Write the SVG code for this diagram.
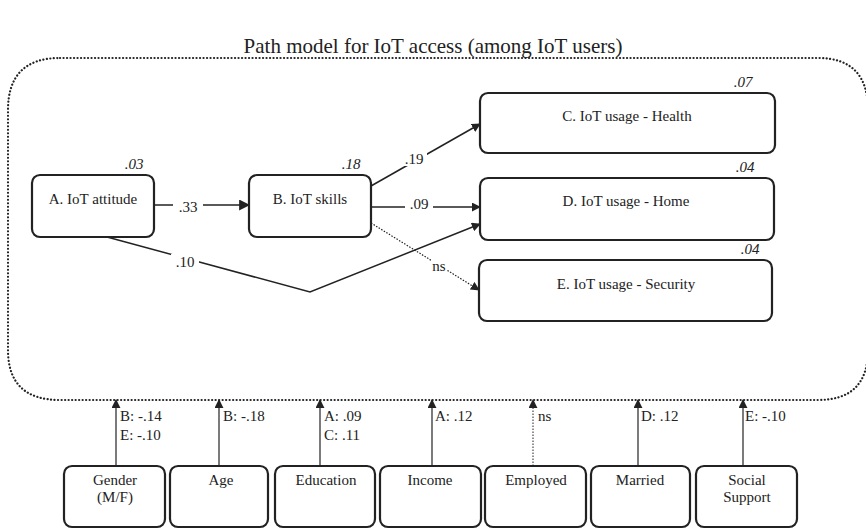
<svg xmlns="http://www.w3.org/2000/svg" width="866" height="530" viewBox="0 0 866 530">
<defs>
<marker id="ah" viewBox="0 0 10 10" refX="9" refY="5" markerWidth="9" markerHeight="9" markerUnits="userSpaceOnUse" orient="auto"><path d="M0,0 L10,5 L0,10 z" fill="#222"/></marker>
<marker id="ahb" viewBox="0 0 10 10" refX="9" refY="5" markerWidth="11" markerHeight="11" markerUnits="userSpaceOnUse" orient="auto"><path d="M0,0 L10,5 L0,10 z" fill="#222"/></marker>
<style>
text{font-family:'Liberation Serif','DejaVu Serif',serif;fill:#222;}
.node rect{fill:#fff;stroke:#222;stroke-width:2.2;}
.lbl{font-size:15px;text-anchor:middle;}
.r2{font-size:15px;font-style:italic;text-anchor:middle;}
.c{fill:none;stroke:#222;stroke-width:1.5;}
.dot{fill:none;stroke:#222;stroke-width:1.2;stroke-dasharray:1.5 1.5;}
.el{font-size:15px;}
.bg{fill:#fff;stroke:none;}
</style>
</defs>
<rect width="866" height="530" fill="#fff"/>
<g font-family="Liberation Serif, DejaVu Serif, serif">
<text x="433" y="53" style="font-size:21px" text-anchor="middle">Path model for IoT access (among IoT users)</text>
<path id="frame" d="M60,58 H818 Q868,58 868,110 V350 Q868,400 818,400 H60 Q8,400 8,350 V110 Q8,58 60,58 Z" fill="none" stroke="#222" stroke-width="2.2" stroke-dasharray="0.1 3.4" stroke-linecap="round"/>
<g id="connectors">
<line class="c" x1="154" y1="205" x2="249" y2="205" marker-end="url(#ahb)"/>
<rect class="bg" x="173" y="198" width="30" height="16"/>
<text class="el" x="188" y="212" text-anchor="middle">.33</text>
<line class="c" x1="371" y1="186" x2="480" y2="124" marker-end="url(#ah)"/>
<rect class="bg" x="401" y="150" width="26" height="16"/>
<text class="el" x="414" y="164" text-anchor="middle">.19</text>
<line class="c" x1="371" y1="207" x2="480" y2="207" marker-end="url(#ah)"/>
<rect class="bg" x="405" y="198" width="28" height="14"/>
<text class="el" x="419" y="209" text-anchor="middle">.09</text>
<polyline class="c" points="107,237 310,292 480,224" marker-end="url(#ah)"/>
<rect class="bg" x="171" y="254" width="28" height="16"/>
<text class="el" x="185" y="267" text-anchor="middle">.10</text>
<line class="dot" x1="371" y1="223" x2="479" y2="290" marker-end="url(#ah)"/>
<rect class="bg" x="431" y="258" width="16" height="14"/>
<text class="el" x="439" y="271" text-anchor="middle">ns</text>
<line class="c" x1="116" y1="466" x2="116" y2="400" marker-end="url(#ah)" style="stroke-width:1.2"/>
<text class="el" x="120" y="421">B: -.14</text>
<text class="el" x="120" y="440">E: -.10</text>
<line class="c" x1="219" y1="466" x2="219" y2="400" marker-end="url(#ah)" style="stroke-width:1.2"/>
<text class="el" x="223" y="421">B: -.18</text>
<line class="c" x1="320" y1="466" x2="320" y2="400" marker-end="url(#ah)" style="stroke-width:1.2"/>
<text class="el" x="324" y="421">A: .09</text>
<text class="el" x="324" y="440">C: .11</text>
<line class="c" x1="432" y1="466" x2="432" y2="400" marker-end="url(#ah)" style="stroke-width:1.2"/>
<text class="el" x="435" y="421">A: .12</text>
<line class="dot" x1="533" y1="466" x2="533" y2="400" marker-end="url(#ah)" style="stroke-width:1"/>
<text class="el" x="538" y="421">ns</text>
<line class="c" x1="638" y1="466" x2="638" y2="400" marker-end="url(#ah)" style="stroke-width:1.2"/>
<text class="el" x="641" y="421">D: .12</text>
<line class="c" x1="743" y1="466" x2="743" y2="400" marker-end="url(#ah)" style="stroke-width:1.2"/>
<text class="el" x="745" y="421">E: -.10</text>
</g>
<g id="nodeA" class="node"><rect x="32" y="175" width="122" height="62" rx="8"/><text class="lbl" x="93" y="204">A. IoT attitude</text><text class="r2" x="134" y="169">.03</text></g>
<g id="nodeB" class="node"><rect x="249" y="175" width="122" height="62" rx="8"/><text class="lbl" x="310" y="204">B. IoT skills</text><text class="r2" x="351" y="169">.18</text></g>
<g id="nodeC" class="node"><rect x="480" y="93" width="295" height="60" rx="8"/><text class="lbl" x="627" y="121">C. IoT usage - Health</text><text class="r2" x="743" y="87">.07</text></g>
<g id="nodeD" class="node"><rect x="480" y="178" width="294" height="62" rx="8"/><text class="lbl" x="626" y="206">D. IoT usage - Home</text><text class="r2" x="745" y="172">.04</text></g>
<g id="nodeE" class="node"><rect x="479" y="260" width="293" height="61" rx="8"/><text class="lbl" x="626" y="289">E. IoT usage - Security</text><text class="r2" x="750" y="254">.04</text></g>
<g id="gender" class="node"><rect x="64" y="466" width="101" height="61" rx="8"/><text class="lbl" x="115" y="485">Gender</text><text class="lbl" x="115" y="502">(M/F)</text></g>
<g id="age" class="node"><rect x="170" y="466" width="98" height="61" rx="8"/><text class="lbl" x="221" y="485">Age</text></g>
<g id="education" class="node"><rect x="275" y="466" width="100" height="61" rx="8"/><text class="lbl" x="326" y="485">Education</text></g>
<g id="income" class="node"><rect x="380" y="466" width="101" height="61" rx="8"/><text class="lbl" x="430" y="485">Income</text></g>
<g id="employed" class="node"><rect x="485" y="466" width="101" height="61" rx="8"/><text class="lbl" x="536" y="485">Employed</text></g>
<g id="married" class="node"><rect x="591" y="466" width="99" height="61" rx="8"/><text class="lbl" x="640" y="485">Married</text></g>
<g id="social" class="node"><rect x="696" y="466" width="101" height="61" rx="8"/><text class="lbl" x="747" y="485">Social</text><text class="lbl" x="747" y="502">Support</text></g>
</g>
</svg>
